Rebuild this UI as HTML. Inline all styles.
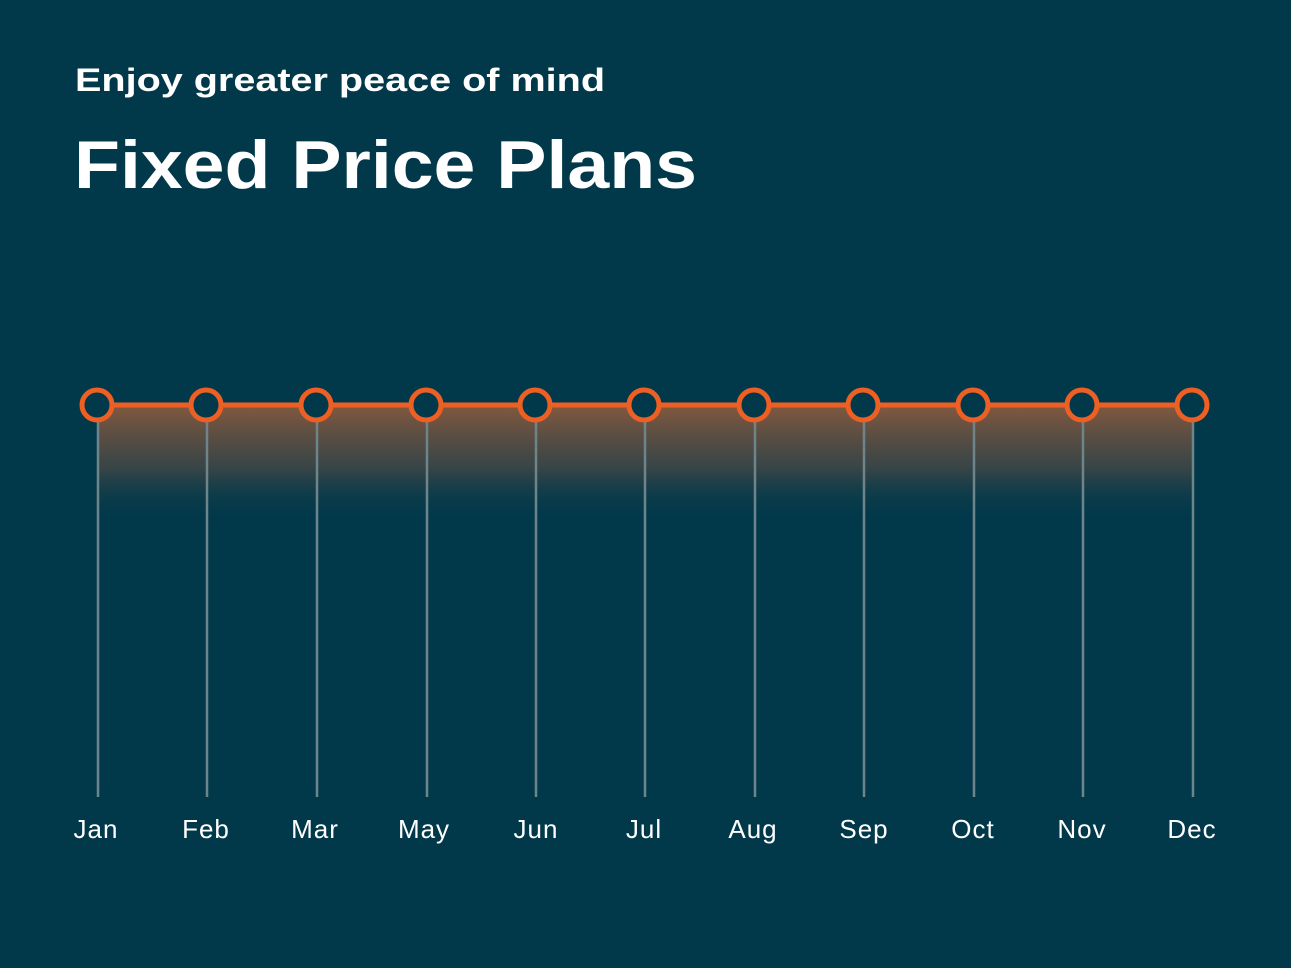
<!DOCTYPE html>
<html><head><meta charset="utf-8"><style>
html,body{margin:0;padding:0;background:#02394a;}
svg{display:block}
</style></head><body>
<svg width="1291" height="968" viewBox="0 0 1291 968" xmlns="http://www.w3.org/2000/svg">
<defs>
<linearGradient id="g" x1="0" y1="0" x2="0" y2="1">
<stop offset="0" stop-color="#8a5a3e" stop-opacity="0.95"/>
<stop offset="0.55" stop-color="#4f4a45" stop-opacity="0.7"/>
<stop offset="1" stop-color="#02394a" stop-opacity="0"/>
</linearGradient>
</defs>
<rect width="1291" height="968" fill="#02394a"/>
<text x="75" y="91" font-family="Liberation Sans, sans-serif" font-weight="bold" font-size="32" fill="#fff" textLength="530" lengthAdjust="spacingAndGlyphs">Enjoy greater peace of mind</text>
<text x="74" y="188" font-family="Liberation Sans, sans-serif" font-weight="bold" font-size="68" fill="#fff" textLength="623" lengthAdjust="spacingAndGlyphs">Fixed Price Plans</text>
<rect x="97" y="405" width="1095" height="115" fill="url(#g)"/>
<g stroke="#6e848b" stroke-width="2.5">
<line x1="98" y1="405" x2="98" y2="797"/><line x1="207" y1="405" x2="207" y2="797"/><line x1="317" y1="405" x2="317" y2="797"/><line x1="427" y1="405" x2="427" y2="797"/><line x1="536" y1="405" x2="536" y2="797"/><line x1="645" y1="405" x2="645" y2="797"/><line x1="755" y1="405" x2="755" y2="797"/><line x1="864" y1="405" x2="864" y2="797"/><line x1="974" y1="405" x2="974" y2="797"/><line x1="1083" y1="405" x2="1083" y2="797"/><line x1="1193" y1="405" x2="1193" y2="797"/>
</g>
<line x1="97" y1="405" x2="1192" y2="405" stroke="#ee5f24" stroke-width="5"/>
<g fill="#02394a" stroke="#ee5f24" stroke-width="5">
<circle cx="97" cy="405" r="15"/><circle cx="206" cy="405" r="15"/><circle cx="316" cy="405" r="15"/><circle cx="426" cy="405" r="15"/><circle cx="535" cy="405" r="15"/><circle cx="644" cy="405" r="15"/><circle cx="754" cy="405" r="15"/><circle cx="863" cy="405" r="15"/><circle cx="973" cy="405" r="15"/><circle cx="1082" cy="405" r="15"/><circle cx="1192" cy="405" r="15"/>
</g>
<g font-family="Liberation Sans, sans-serif" font-size="26" fill="#fff" text-anchor="middle" letter-spacing="1">
<text x="96" y="838">Jan</text><text x="206" y="838">Feb</text><text x="315" y="838">Mar</text><text x="424" y="838">May</text><text x="536" y="838">Jun</text><text x="644" y="838">Jul</text><text x="753" y="838">Aug</text><text x="864" y="838">Sep</text><text x="973" y="838">Oct</text><text x="1082" y="838">Nov</text><text x="1192" y="838">Dec</text>
</g>
</svg>
</body></html>
